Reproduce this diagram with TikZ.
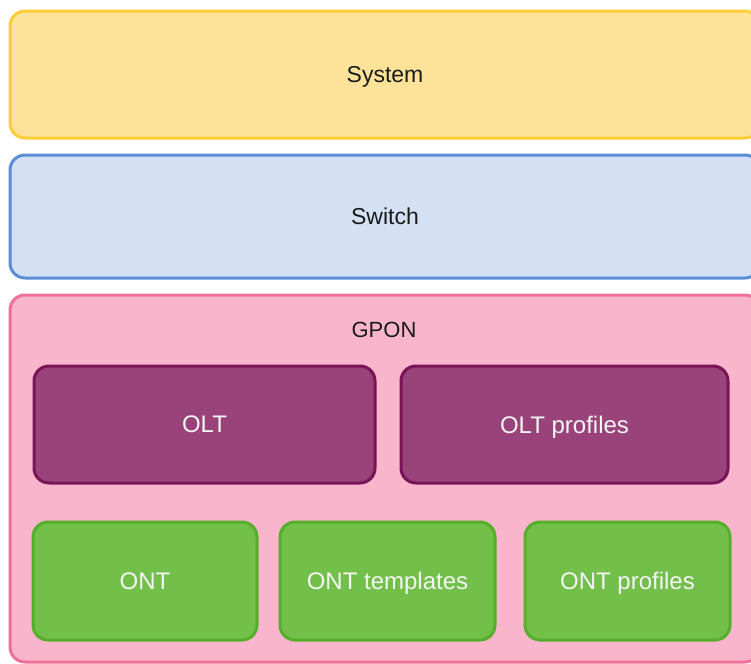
\documentclass[tikz,border=0pt]{standalone}
\usepackage{fontspec}
\setmainfont{Liberation Sans}
\definecolor{sysfill}{HTML}{FDE399}
\definecolor{sysdraw}{HTML}{FFCD38}
\definecolor{swfill}{HTML}{D4E1F5}
\definecolor{swdraw}{HTML}{5A8ED4}
\definecolor{gpfill}{HTML}{F8B5CB}
\definecolor{gpdraw}{HTML}{EF7199}
\definecolor{oltfill}{HTML}{99437A}
\definecolor{oltdraw}{HTML}{7A1458}
\definecolor{ontfill}{HTML}{72C04A}
\definecolor{ontdraw}{HTML}{55AF2A}
\definecolor{darktext}{HTML}{1A1A1A}
\definecolor{lighttext}{HTML}{F4F4F4}
\begin{document}
\begin{tikzpicture}[x=0.5pt,y=-0.5pt,
  box/.style={rectangle, rounded corners=7.5pt, line width=1.5pt, inner sep=0pt, text depth=0pt},
  wide/.style={box, minimum width=375pt, text=darktext, font=\fontsize{11.5}{13}\selectfont},
  inner/.style={box, minimum height=58.5pt, text=lighttext, font=\fontsize{12}{14}\selectfont},
  oltbox/.style={inner, fill=oltfill, draw=oltdraw},
  ontbox/.style={inner, fill=ontfill, draw=ontdraw, minimum height=59pt}]
\useasboundingbox (0,0) rectangle (751,664);
\clip (0,0) rectangle (751,664);
\node[wide, fill=sysfill, draw=sysdraw, minimum height=63.5pt] (system) at (385,74.5) {System};
\node[wide, fill=swfill, draw=swdraw, minimum height=61.5pt] (switch) at (385,216.5) {Switch};
\node[wide, fill=gpfill, draw=gpdraw, minimum height=183.5pt] (gpon) at (385,478.5) {};
\node[text=darktext, font=\fontsize{11}{13}\selectfont, inner sep=0pt] (gponlbl) at (384,330) {GPON};
\node[oltbox, minimum width=170.5pt] (olt) at (204.5,424.5) {OLT};
\node[oltbox, minimum width=163.5pt] (oltprof) at (564.5,424.5) {OLT profiles};
\node[ontbox, minimum width=112pt] (ont) at (145,581) {ONT};
\node[ontbox, minimum width=107.5pt] (onttpl) at (387.5,581) {ONT templates};
\node[ontbox, minimum width=102.5pt] (ontprof) at (627.5,581) {ONT profiles};
\end{tikzpicture}
\end{document}
